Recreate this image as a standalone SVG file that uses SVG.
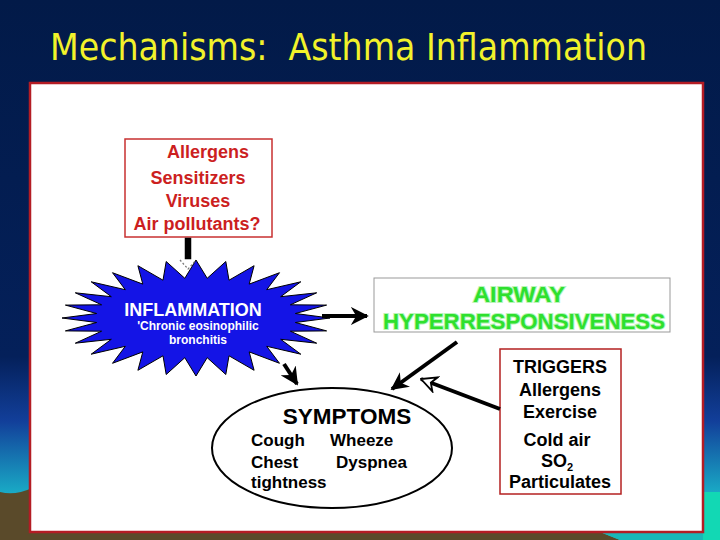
<svg xmlns="http://www.w3.org/2000/svg" width="720" height="540" viewBox="0 0 720 540">
  <defs>
    <linearGradient id="bg" x1="0" y1="0" x2="0" y2="1">
      <stop offset="0" stop-color="#021a48"/>
      <stop offset="0.66" stop-color="#04205a"/>
      <stop offset="0.78" stop-color="#123f9a"/>
      <stop offset="0.92" stop-color="#1ab0c8"/>
      <stop offset="1" stop-color="#18c8c0"/>
    </linearGradient>
    <marker id="ah" viewBox="0 0 10 10" refX="9" refY="5" markerWidth="4.5" markerHeight="4.5" orient="auto" markerUnits="strokeWidth">
      <path d="M0,0 L10,5 L0,10 L3,5 z" fill="#000"/>
    </marker>
    <marker id="ahw" viewBox="0 0 12 12" refX="11" refY="6" markerWidth="4.5" markerHeight="4.5" orient="auto" markerUnits="strokeWidth">
      <path d="M1,1 L11,6 L1,11 L4,6 z" fill="#fff" stroke="#000" stroke-width="1.2"/>
    </marker>
    <style>
      .b { font-family: "Liberation Sans", Arial, sans-serif; font-weight: bold; }
      .red { fill: #cc1f1f; font-size: 18px; }
      .blk { fill: #000; font-size: 18px; }
      .sym { fill: #000; font-size: 17px; }
      .grn { fill: #2ee02e; font-size: 22px; stroke: #b8f5b8; stroke-width: 2; paint-order: stroke; }
      .wht { fill: #fff; }
      .conn { stroke: #000; stroke-width: 4; fill: none; }
    </style>
  </defs>

  <!-- background -->
  <rect x="0" y="0" width="720" height="540" fill="url(#bg)"/>
  <path d="M0,492 Q15,496 32,488 L32,540 L0,540 z" fill="#5a4a2a"/>
  <path d="M0,532 L600,532 L620,540 L0,540 z" fill="#5a4a2a"/>
  <path d="M600,532 L720,532 L720,540 L620,540 z" fill="#18b8b8"/>
  <rect x="703" y="492" width="17" height="48" fill="#12d8b4"/>

  <text x="50" y="60" xml:space="preserve" font-family="'DejaVu Sans Condensed', 'DejaVu Sans', sans-serif" font-size="38" fill="#f2f22a" textLength="597" lengthAdjust="spacingAndGlyphs">Mechanisms:  Asthma Inflammation</text>

  <!-- panel -->
  <rect x="30" y="83" width="673" height="449" fill="#fff" stroke="#b41c24" stroke-width="2.5"/>

  <!-- allergens box -->
  <g id="causes">
    <rect x="125" y="139" width="147" height="98" fill="#fff" stroke="#c83030" stroke-width="1.5"/>
    <text x="208" y="158" text-anchor="middle" class="b red">Allergens</text>
    <text x="198" y="184" text-anchor="middle" class="b red">Sensitizers</text>
    <text x="198" y="207" text-anchor="middle" class="b red">Viruses</text>
    <text x="197" y="230" text-anchor="middle" class="b red">Air pollutants?</text>
  </g>

  <!-- inflammation starburst -->
  <g id="inflammation">
    <polygon fill="#1414e6" stroke="#000" stroke-width="1" points="330,318 295.4,322.5 326.6,330.9 290.4,331.2 316.7,343.2 280.7,339.3 300.8,354.2 266.7,346.3 279.5,363.3 249.2,351.9 254.1,370.3 229,355.8 225.8,374.5 207.2,357.7 196,376 184.8,357.7 166.2,374.5 163,355.8 137.9,370.3 142.8,351.9 112.5,363.3 125.3,346.3 91.2,354.2 111.3,339.3 75.3,343.2 101.6,331.2 65.4,330.9 96.6,322.5 62,318 96.6,313.5 65.4,305.1 101.6,304.8 75.3,292.8 111.3,296.7 91.2,281.8 125.3,289.7 112.5,272.7 142.8,284.1 137.9,265.7 163,280.2 166.2,261.5 184.8,278.3 196,260 207.2,278.3 225.8,261.5 229,280.2 254.1,265.7 249.2,284.1 279.5,272.7 266.7,289.7 300.8,281.8 280.7,296.7 316.7,292.8 290.4,304.8 326.6,305.1 295.4,313.5"/>
    <text x="193" y="316" text-anchor="middle" class="b wht" font-size="18">INFLAMMATION</text>
    <text x="198" y="330" text-anchor="middle" class="b wht" font-size="12">'Chronic eosinophilic</text>
    <text x="198" y="344" text-anchor="middle" class="b wht" font-size="12">bronchitis</text>
  </g>

  <!-- airway box -->
  <g id="airway">
    <rect x="374" y="278" width="296" height="54" fill="#fff" stroke="#999" stroke-width="1"/>
    <text x="519" y="302" text-anchor="middle" class="b grn" textLength="92" lengthAdjust="spacingAndGlyphs">AIRWAY</text>
    <text x="524" y="329" text-anchor="middle" class="b grn" textLength="282" lengthAdjust="spacingAndGlyphs">HYPERRESPONSIVENESS</text>
  </g>

  <!-- triggers box -->
  <g id="triggers">
    <rect x="500" y="349" width="121" height="145" fill="#fff" stroke="#b42020" stroke-width="1.5"/>
    <text x="560" y="373" text-anchor="middle" class="b blk">TRIGGERS</text>
    <text x="560" y="396" text-anchor="middle" class="b blk">Allergens</text>
    <text x="560" y="418" text-anchor="middle" class="b blk">Exercise</text>
    <text x="557" y="446" text-anchor="middle" class="b blk">Cold air</text>
    <text x="557" y="467" text-anchor="middle" class="b blk">SO<tspan font-size="11" dy="4">2</tspan></text>
    <text x="560" y="488" text-anchor="middle" class="b blk">Particulates</text>
  </g>

  <!-- symptoms ellipse -->
  <g id="symptoms">
    <ellipse cx="332" cy="448" rx="120" ry="60" fill="#fff" stroke="#000" stroke-width="2"/>
    <text x="347" y="424" text-anchor="middle" class="b" font-size="22.5">SYMPTOMS</text>
    <text x="251" y="446" class="b sym">Cough</text>
    <text x="330" y="446" class="b sym">Wheeze</text>
    <text x="251" y="468" class="b sym">Chest</text>
    <text x="336" y="468" class="b sym">Dyspnea</text>
    <text x="251" y="488" class="b sym">tightness</text>
  </g>

  <!-- connectors -->
  <g id="connectors">
    <rect x="185" y="238" width="6" height="21" fill="#000" stroke="#000" stroke-width="0.5"/>
    <path d="M180,260 L188,269 L196,260" fill="none" stroke="#777" stroke-width="1.2" stroke-dasharray="2,2"/>
    <line x1="322" y1="316" x2="367" y2="316" class="conn" marker-end="url(#ah)"/>
    <line x1="457" y1="342" x2="392" y2="389" class="conn" marker-end="url(#ah)"/>
    <line x1="500" y1="409" x2="421" y2="379" class="conn" marker-end="url(#ahw)"/>
    <line x1="284" y1="364" x2="297" y2="384" class="conn" marker-end="url(#ah)"/>
  </g>
</svg>
